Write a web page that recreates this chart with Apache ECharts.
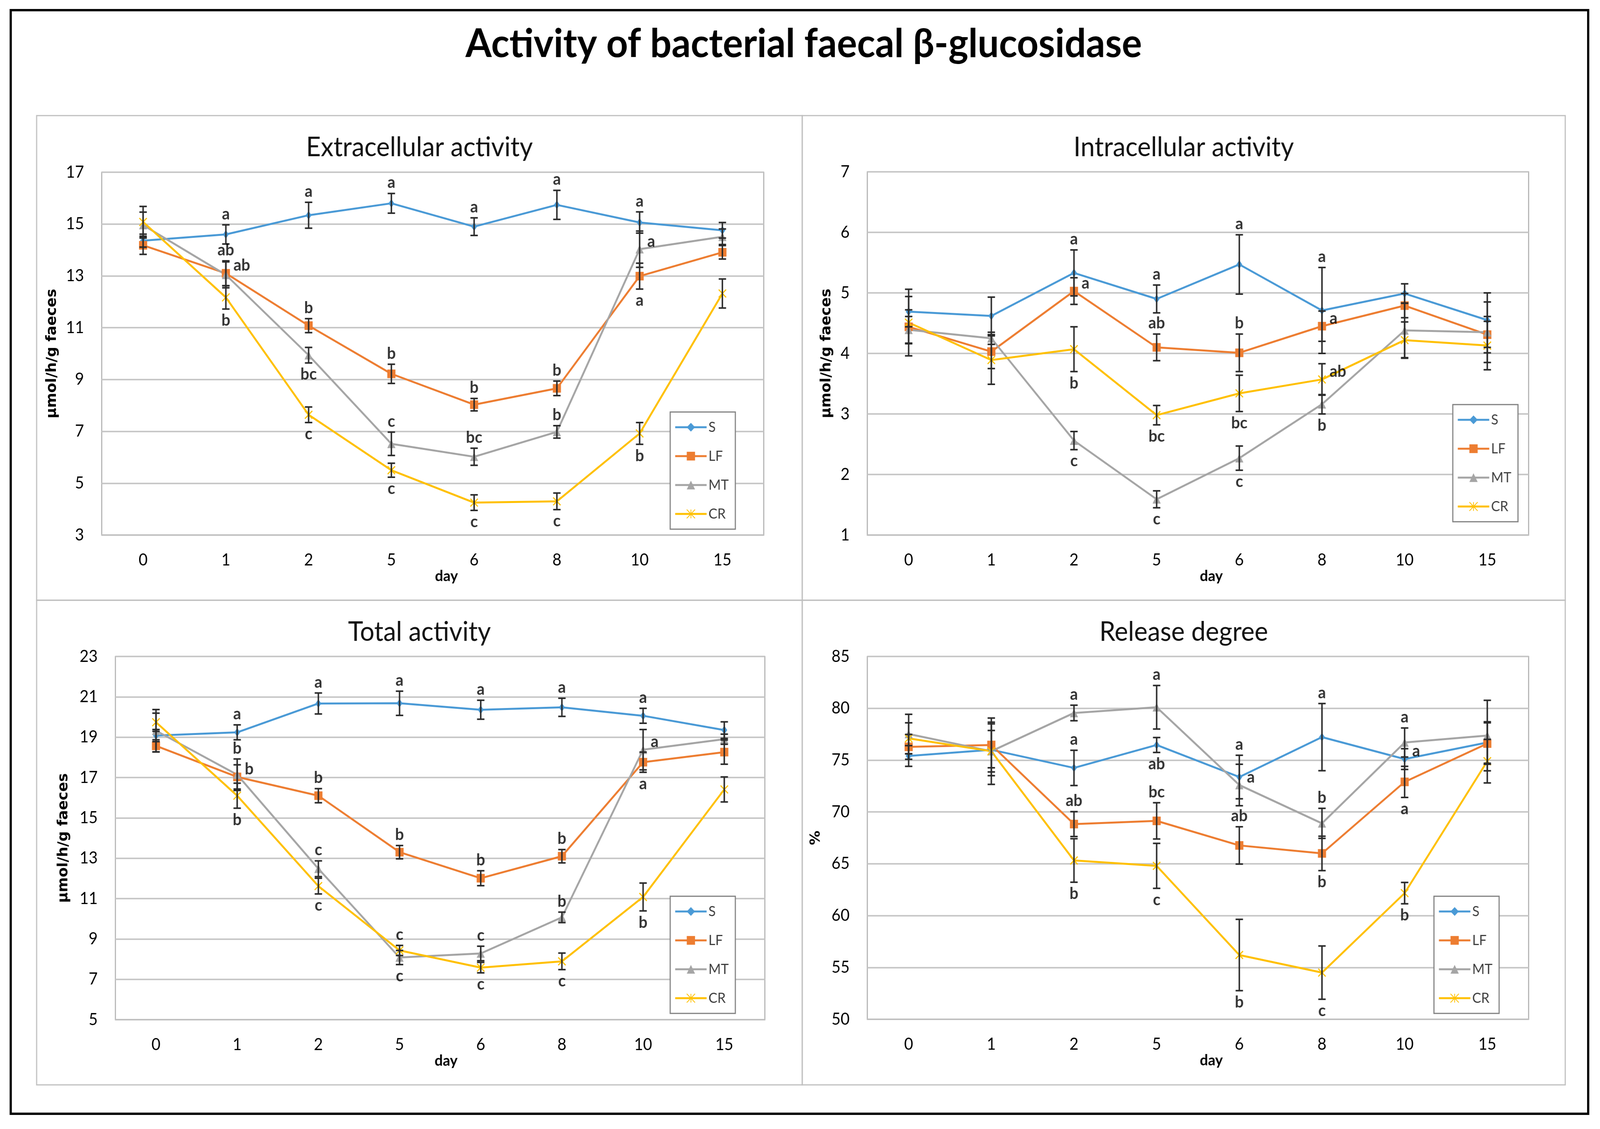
<!DOCTYPE html>
<html>
<head>
<meta charset="utf-8">
<script src="https://cdn.jsdelivr.net/npm/echarts@6/dist/echarts.min.js"></script>
<style>
html,body{margin:0;padding:0;background:#fff;width:100%;height:100%;overflow:hidden;}
#wrap{position:fixed;left:0;top:0;width:100vw;height:100vh;overflow:hidden;background:#fff;}
#c{width:4326px;height:2891px;transform-origin:0 0;}
</style>
</head>
<body>
<div id="wrap"><div id="c"></div></div>
<script>
// ---------------- data ----------------
const days = ['0', '1', '2', '5', '6', '8', '10', '15'];
const groups = ['S', 'LF', 'MT', 'CR'];

// Extracellular activity (µmol/h/g faeces)
const extS  = [14.36, 14.60, 15.34, 15.80, 14.90, 15.74, 15.06, 14.76];
const extLF = [14.18, 13.10, 11.08, 9.22, 8.03, 8.66, 12.99, 13.91];
const extMT = [14.96, 13.04, 9.94, 6.52, 6.02, 6.98, 14.03, 14.51];
const extCR = [15.08, 12.17, 7.64, 5.50, 4.25, 4.30, 6.92, 12.32];
const extS_sd  = [0.25, 0.37, 0.50, 0.38, 0.34, 0.56, 0.41, 0.30];
const extLF_sd = [0.35, 0.48, 0.27, 0.37, 0.24, 0.28, 0.50, 0.26];
const extMT_sd = [0.50, 0.50, 0.30, 0.45, 0.33, 0.24, 0.70, 0.30];
const extCR_sd = [0.60, 0.45, 0.30, 0.27, 0.30, 0.32, 0.42, 0.56];
const extLetters = [
  [1, 'S', 'top', 'a'], [1, 'LF', 'top', 'ab'], [1, 'LF', 'right', 'ab'], [1, 'CR', 'bottom', 'b'],
  [2, 'S', 'top', 'a'], [2, 'LF', 'top', 'b'], [2, 'MT', 'bottom', 'bc'], [2, 'CR', 'bottom', 'c'],
  [3, 'S', 'top', 'a'], [3, 'LF', 'top', 'b'], [3, 'MT', 'top', 'c'], [3, 'CR', 'bottom', 'c'],
  [4, 'S', 'top', 'a'], [4, 'LF', 'top', 'b'], [4, 'MT', 'top', 'bc'], [4, 'CR', 'bottom', 'c'],
  [5, 'S', 'top', 'a'], [5, 'LF', 'top', 'b'], [5, 'MT', 'top', 'b'], [5, 'CR', 'bottom', 'c'],
  [6, 'S', 'top', 'a'], [6, 'MT', 'right', 'a'], [6, 'LF', 'bottom', 'a'], [6, 'CR', 'bottom', 'b']
];

// Intracellular activity (µmol/h/g faeces)
const intS  = [4.69, 4.62, 5.33, 4.90, 5.47, 4.71, 4.99, 4.55];
const intLF = [4.44, 4.03, 5.03, 4.10, 4.01, 4.45, 4.79, 4.31];
const intMT = [4.39, 4.25, 2.56, 1.59, 2.27, 3.16, 4.38, 4.35];
const intCR = [4.51, 3.89, 4.07, 2.98, 3.34, 3.57, 4.22, 4.13];
const intS_sd  = [0.25, 0.31, 0.38, 0.23, 0.49, 0.71, 0.16, 0.45];
const intLF_sd = [0.28, 0.28, 0.22, 0.22, 0.31, 0.25, 0.20, 0.30];
const intMT_sd = [0.22, 0.10, 0.15, 0.14, 0.20, 0.16, 0.45, 0.50];
const intCR_sd = [0.55, 0.40, 0.37, 0.16, 0.30, 0.26, 0.30, 0.40];
const intLetters = [
  [2, 'S', 'top', 'a'], [2, 'LF', 'right', 'a'], [2, 'CR', 'bottom', 'b'], [2, 'MT', 'bottom', 'c'],
  [3, 'S', 'top', 'a'], [3, 'LF', 'top', 'ab'], [3, 'CR', 'bottom', 'bc'], [3, 'MT', 'bottom', 'c'],
  [4, 'S', 'top', 'a'], [4, 'LF', 'top', 'b'], [4, 'CR', 'bottom', 'bc'], [4, 'MT', 'bottom', 'c'],
  [5, 'S', 'top', 'a'], [5, 'LF', 'right', 'a'], [5, 'CR', 'right', 'ab'], [5, 'MT', 'bottom', 'b']
];

// Total activity (µmol/h/g faeces)
const totS  = [19.08, 19.24, 20.67, 20.68, 20.36, 20.48, 20.06, 19.35];
const totLF = [18.57, 17.03, 16.10, 13.30, 12.01, 13.10, 17.76, 18.26];
const totMT = [19.32, 17.14, 12.48, 8.08, 8.28, 10.07, 18.38, 18.90];
const totCR = [19.74, 16.10, 11.62, 8.43, 7.58, 7.89, 11.08, 16.41];
const totS_sd  = [0.30, 0.37, 0.52, 0.60, 0.47, 0.45, 0.37, 0.41];
const totLF_sd = [0.30, 0.60, 0.35, 0.33, 0.37, 0.33, 0.50, 0.60];
const totMT_sd = [1.05, 0.78, 0.39, 0.35, 0.36, 0.26, 1.00, 0.25];
const totCR_sd = [0.45, 0.62, 0.39, 0.25, 0.26, 0.41, 0.69, 0.62];
const totLetters = [
  [1, 'S', 'top', 'a'], [1, 'MT', 'top', 'b'], [1, 'LF', 'right', 'b'], [1, 'CR', 'bottom', 'b'],
  [2, 'S', 'top', 'a'], [2, 'LF', 'top', 'b'], [2, 'MT', 'top', 'c'], [2, 'CR', 'bottom', 'c'],
  [3, 'S', 'top', 'a'], [3, 'LF', 'top', 'b'], [3, 'CR', 'top', 'c'], [3, 'MT', 'bottom', 'c'],
  [4, 'S', 'top', 'a'], [4, 'LF', 'top', 'b'], [4, 'MT', 'top', 'c'], [4, 'CR', 'bottom', 'c'],
  [5, 'S', 'top', 'a'], [5, 'LF', 'top', 'b'], [5, 'MT', 'top', 'b'], [5, 'CR', 'bottom', 'c'],
  [6, 'S', 'top', 'a'], [6, 'MT', 'right', 'a'], [6, 'LF', 'bottom', 'a'], [6, 'CR', 'bottom', 'b']
];

// Release degree (%)
const relS  = [75.40, 76.00, 74.25, 76.46, 73.37, 77.22, 75.10, 76.70];
const relLF = [76.28, 76.46, 68.83, 69.14, 66.77, 66.00, 72.90, 76.60];
const relMT = [77.52, 75.86, 79.55, 80.10, 72.60, 68.90, 76.70, 77.37];
const relCR = [77.10, 75.86, 65.32, 64.80, 56.20, 54.50, 62.17, 74.90];
const relS_sd  = [1.00, 2.50, 1.70, 0.72, 2.10, 3.24, 1.00, 2.00];
const relLF_sd = [1.20, 2.20, 1.20, 1.75, 1.80, 1.66, 1.50, 2.00];
const relMT_sd = [1.90, 2.00, 0.75, 2.10, 2.00, 1.45, 1.40, 3.40];
const relCR_sd = [1.50, 3.20, 2.10, 2.17, 3.44, 2.57, 1.03, 2.10];
const relLetters = [
  [2, 'MT', 'top', 'a'], [2, 'S', 'top', 'a'], [2, 'LF', 'top', 'ab'], [2, 'CR', 'bottom', 'b'],
  [3, 'MT', 'top', 'a'], [3, 'S', 'bottom', 'ab'], [3, 'LF', 'top', 'bc'], [3, 'CR', 'bottom', 'c'],
  [4, 'S', 'top', 'a'], [4, 'MT', 'right', 'a'], [4, 'LF', 'top', 'ab'], [4, 'CR', 'bottom', 'b'],
  [5, 'S', 'top', 'a'], [5, 'MT', 'top', 'b'], [5, 'LF', 'bottom', 'b'], [5, 'CR', 'bottom', 'c'],
  [6, 'MT', 'top', 'a'], [6, 'S', 'right', 'a'], [6, 'LF', 'bottom', 'a'], [6, 'CR', 'bottom', 'b']
];

const mainTitle = 'Activity of bacterial faecal β-glucosidase';

// ---------------- styling / layout ----------------
const colors = ['#4A9AD6', '#ED7D31', '#A5A5A5', '#FFC000'];
const symbols = ['diamond', 'rect', 'triangle', 'path://M0,0L10,10M10,0L0,10M5,0L5,10'];
const symbolSizes = [[16, 22], 22, 22, 20];
const FONT = 'Lato, "Noto Sans", sans-serif';

const panels = [
  { title: 'Extracellular activity', yName: 'µmol/h/g faeces', min: 3, max: 17, interval: 2,
    values: [extS, extLF, extMT, extCR], sds: [extS_sd, extLF_sd, extMT_sd, extCR_sd], letters: extLetters,
    grid: { left: 275, top: 441, width: 1790, height: 929 }, nameGap: 115, dayPad: 74,
    legend: { left: 1812, top: 1055 }, frame: [99, 296, 2070, 1241] },
  { title: 'Intracellular activity', yName: 'µmol/h/g faeces', min: 1, max: 7, interval: 1,
    values: [intS, intLF, intMT, intCR], sds: [intS_sd, intLF_sd, intMT_sd, intCR_sd], letters: intLetters,
    grid: { left: 2345, top: 440, width: 1788, height: 930 }, nameGap: 91, dayPad: 72,
    legend: { left: 3928, top: 1036 }, frame: [2169, 296, 2063, 1241] },
  { title: 'Total activity', yName: 'µmol/h/g faeces', min: 5, max: 23, interval: 2,
    values: [totS, totLF, totMT, totCR], sds: [totS_sd, totLF_sd, totMT_sd, totCR_sd], letters: totLetters,
    grid: { left: 312, top: 1681, width: 1756, height: 930 }, nameGap: 121, dayPad: 32,
    legend: { left: 1812, top: 2295 }, frame: [99, 1537, 2070, 1241] },
  { title: 'Release degree', yName: '%', min: 50, max: 85, interval: 5,
    values: [relS, relLF, relMT, relCR], sds: [relS_sd, relLF_sd, relMT_sd, relCR_sd], letters: relLetters,
    grid: { left: 2345, top: 1681, width: 1788, height: 929 }, nameGap: 120, dayPad: 72,
    legend: { left: 3877, top: 2295 }, frame: [2169, 1537, 2063, 1241] }
];

function renderErr(params, api) {
  const i = api.value(0);
  const lo = api.coord([i, api.value(1)]);
  const hi = api.coord([i, api.value(2)]);
  const cw = 10;
  const st = { stroke: '#2B2B2B', lineWidth: 4 };
  return {
    type: 'group',
    children: [
      { type: 'line', shape: { x1: lo[0], y1: lo[1], x2: hi[0], y2: hi[1] }, style: st },
      { type: 'line', shape: { x1: lo[0] - cw, y1: lo[1], x2: lo[0] + cw, y2: lo[1] }, style: st },
      { type: 'line', shape: { x1: hi[0] - cw, y1: hi[1], x2: hi[0] + cw, y2: hi[1] }, style: st }
    ]
  };
}

const grids = [], xAxes = [], yAxes = [], series = [], legends = [], graphics = [];

graphics.push({ type: 'rect', shape: { x: 29, y: 26, width: 4265, height: 2826 },
  style: { fill: 'none', stroke: '#000', lineWidth: 6 }, z: 10 });
graphics.push({ type: 'text', x: 2173, y: 113,
  style: { text: mainTitle, fontFamily: FONT, fontWeight: 'bold', fontSize: 102, fill: '#000',
           align: 'center', verticalAlign: 'middle' } });

panels.forEach((p, pi) => {
  grids.push(Object.assign({ show: true, borderColor: '#A6A6A6', borderWidth: 2.5, backgroundColor: '#fff' }, p.grid));
  const f = p.frame;
  graphics.push({ type: 'rect', shape: { x: f[0], y: f[1], width: f[2], height: f[3] },
    style: { fill: 'none', stroke: '#BFBFBF', lineWidth: 3 }, z: -1 });
  graphics.push({ type: 'text', x: f[0] + f[2] / 2, y: f[1] + 82,
    style: { text: p.title, fontFamily: FONT, fontSize: 69, fill: '#111', align: 'center', verticalAlign: 'middle' } });

  xAxes.push({
    type: 'category', gridIndex: pi, data: days,
    axisLine: { show: true, lineStyle: { color: '#BFBFBF', width: 3 } },
    axisTick: { show: false },
    axisLabel: { fontFamily: FONT, fontSize: 42, color: '#000', margin: 43 },
    name: 'day', nameLocation: 'middle', nameGap: 84,
    nameTextStyle: { fontFamily: FONT, fontSize: 39, fontWeight: 'bold', color: '#000', padding: [0, 0, 0, p.dayPad] }
  });
  yAxes.push({
    type: 'value', gridIndex: pi, min: p.min, max: p.max, interval: p.interval,
    axisLine: { show: false }, axisTick: { show: false },
    axisLabel: { fontFamily: FONT, fontSize: 42, color: '#000', margin: 48 },
    splitLine: { show: true, lineStyle: { color: '#C8C8C8', width: 4 } },
    name: p.yName, nameLocation: 'middle', nameRotate: 90, nameGap: p.nameGap,
    nameTextStyle: { fontFamily: '"DejaVu Sans", sans-serif', fontWeight: 'bold', fontSize: 37, color: '#000' }
  });

  groups.forEach((g, k) => {
    series.push({
      name: g, type: 'line', xAxisIndex: pi, yAxisIndex: pi, data: p.values[k],
      symbol: symbols[k], symbolSize: symbolSizes[k], showSymbol: true,
      lineStyle: { width: 5, color: colors[k] },
      itemStyle: k === 3 ? { color: colors[k], borderColor: colors[k], borderWidth: 3 } : { color: colors[k], borderWidth: 0 },
      z: 2, silent: true, animation: false
    });
  });
  groups.forEach((g, k) => {
    series.push({
      name: g + ' sd', type: 'custom', xAxisIndex: pi, yAxisIndex: pi,
      data: p.values[k].map((v, i) => [i, v - p.sds[k][i], v + p.sds[k][i]]),
      encode: { x: 0, y: [1, 2] }, renderItem: renderErr, z: 3, silent: true, animation: false
    });
  });
  series.push({
    name: 'letters' + pi, type: 'scatter', xAxisIndex: pi, yAxisIndex: pi,
    symbolSize: 1, itemStyle: { color: 'transparent' }, z: 5, silent: true, animation: false,
    label: { show: true, formatter: '{b}', fontFamily: FONT, fontWeight: 'bold', fontSize: 42, color: '#000' },
    data: p.letters.map(([i, s, pos, t]) => {
      const k = groups.indexOf(s);
      const v = p.values[k][i], e = p.sds[k][i];
      const y = pos === 'top' ? v + e : (pos === 'bottom' ? v - e : v);
      return { value: [i, y], name: t,
        label: { position: pos, distance: pos === 'right' ? 20 : (pos === 'top' ? 6 : 8),
                 offset: pos === 'right' ? [0, -20] : [0, 0] } };
    })
  });

  legends.push({
    data: groups, orient: 'vertical', left: p.legend.left, top: p.legend.top,
    padding: [21, 18, 21, 11], itemGap: 38, itemWidth: 85, itemHeight: 28,
    borderColor: '#808080', borderWidth: 3, backgroundColor: '#fff',
    lineStyle: { width: 5 },
    textStyle: { fontFamily: FONT, fontSize: 36, color: '#404040' },
    selectedMode: false
  });
});

// fit the 4326x2891 design into whatever viewport the browser really has
const BASE_W = 4326, BASE_H = 2891;
const sx = (window.innerWidth || BASE_W) / BASE_W;
const sy = (window.innerHeight || BASE_H) / BASE_H;
const el = document.getElementById('c');
el.style.transform = 'scale(' + sx + ',' + sy + ')';
const dpr = Math.max((window.devicePixelRatio || 1) * Math.max(sx, sy), 1);

const chart = echarts.init(el, null, { renderer: 'canvas', width: BASE_W, height: BASE_H, devicePixelRatio: dpr });
chart.setOption({
  backgroundColor: '#fff',
  animation: false,
  grid: grids, xAxis: xAxes, yAxis: yAxes, series: series, legend: legends, graphic: graphics
});
</script>
</body>
</html>
